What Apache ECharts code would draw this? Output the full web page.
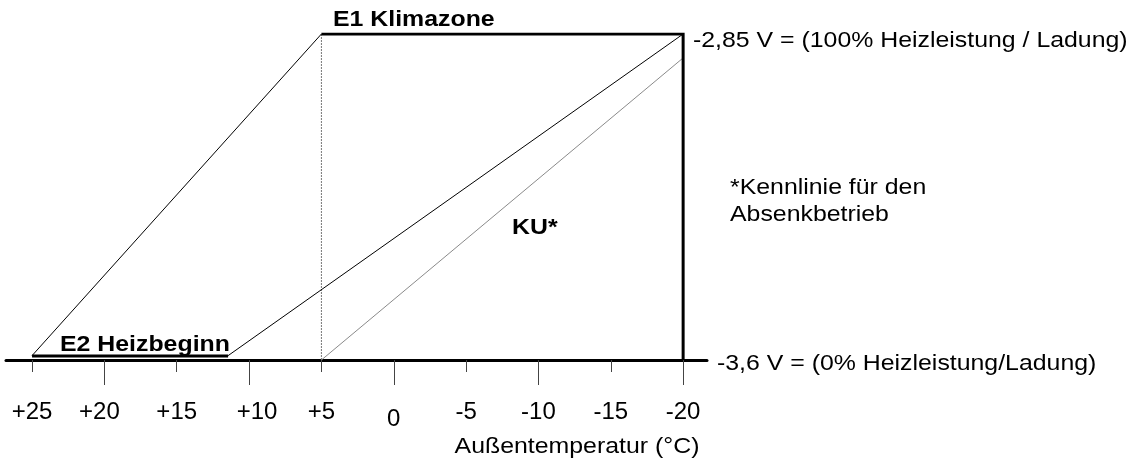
<!DOCTYPE html>
<html>
<head>
<meta charset="utf-8">
<style>
  html, body { margin: 0; padding: 0; background: #fff; }
  #chart { width: 1139px; height: 464px; }
</style>
<script src="https://cdn.jsdelivr.net/npm/echarts@6/dist/echarts.min.js"></script>
</head>
<body>
<div id="chart"></div>
<script>
  // Achsen: Außentemperatur (°C), Spannung (V)
  const tempMin = -21.65
  const tempMax = 26.8
  const voltMin = -3.6
  const voltMax = -2.85
  const longTicks = [20, 10, 0, -10, -20]
  const shortTicks = [25, 15, 5, -5, -15]
  const tickLabels = [25, 20, 15, 10, 5, 0, -5, -10, -15, -20]

  // Kennlinien [temp, volt]
  const klimazone = [[5, -2.85], [-20, -2.85], [-20, -3.6]]
  const klimaGrenze = [[5, -3.6], [5, -2.85]]
  const heizbeginn = [[25, -3.591], [11.45, -3.591]]
  const kennlinieSteil = [[25, -3.59], [5, -2.85]]
  const kennlinieFlach = [[11.45, -3.59], [-20, -2.85]]
  const kennlinieKU = [[5, -3.6], [-20, -2.905]]

  const font = "'Liberation Sans', Arial, sans-serif"
  const sx = 1.13

  const chart = echarts.init(document.getElementById('chart'))

  const line = (data, width, color, type) => ({
    type: 'line',
    data,
    symbol: 'none',
    silent: true,
    animation: false,
    lineStyle: { width, color, type: type || 'solid', join: 'miter', cap: 'butt' }
  })

  const txt = (text, x, y, opts = {}) => ({
    type: 'text',
    x,
    y,
    scaleX: sx,
    silent: true,
    style: {
      text,
      fontSize: 22,
      fontFamily: font,
      fontWeight: opts.bold ? 'bold' : 'normal',
      fill: '#000',
      align: opts.align || 'left',
      verticalAlign: 'middle'
    }
  })

  // einzelne Beschriftungen sitzen im Original leicht versetzt
  const labelKey = (v) => {
    if (v === 0) return 'z'
    if (v === 20) return 'l'
    if (v === 10) return 'r'
    return 'n'
  }

  const xBase = {
    type: 'value',
    min: tempMin,
    max: tempMax,
    inverse: true,
    position: 'bottom',
    splitLine: { show: false }
  }

  const lbl = { fontSize: 24, fontFamily: font, color: '#000' }

  chart.setOption({
    animation: false,
    grid: { left: 6, right: 432, top: 34, bottom: 104 },
    xAxis: [
      Object.assign({}, xBase, {
        axisLine: { show: true, lineStyle: { color: '#000', width: 3 } },
        axisTick: {
          show: true,
          customValues: longTicks,
          length: 25,
          lineStyle: { color: '#444', width: 1 }
        },
        axisLabel: {
          show: true,
          customValues: tickLabels,
          margin: 40,
          color: '#000',
          fontSize: 24,
          fontFamily: font,
          formatter: (v) => {
            const s = v > 0 ? '+' + v : String(v)
            return '{' + labelKey(v) + '|' + s + '}'
          },
          rich: {
            n: lbl,
            z: Object.assign({}, lbl, { padding: [7, 0, 0, 0] }),
            l: Object.assign({}, lbl, { padding: [0, 10, 0, 0] }),
            r: Object.assign({}, lbl, { padding: [0, 0, 0, 16] })
          }
        }
      }),
      Object.assign({}, xBase, {
        axisLine: { show: false },
        axisTick: {
          show: true,
          customValues: shortTicks,
          length: 12,
          lineStyle: { color: '#444', width: 1 }
        },
        axisLabel: { show: false }
      })
    ],
    yAxis: {
      type: 'value',
      min: voltMin,
      max: voltMax,
      show: false,
      splitLine: { show: false }
    },
    series: [
      line(klimaGrenze, 1, '#777', [2, 1]),
      line(kennlinieKU, 1, '#8a8a8a'),
      line(kennlinieSteil, 1, '#000'),
      line(kennlinieFlach, 1, '#000'),
      line(heizbeginn, 3, '#000'),
      line(klimazone, 3, '#000')
    ],
    graphic: [
      txt('E1 Klimazone', 333, 20, { bold: true }),
      txt('E2 Heizbeginn', 60, 345, { bold: true }),
      txt('KU*', 512, 228, { bold: true }),
      txt('-2,85 V = (100% Heizleistung / Ladung)', 693, 41),
      txt('-3,6 V = (0% Heizleistung/Ladung)', 717, 364),
      txt('*Kennlinie für den', 730, 188),
      txt('Absenkbetrieb', 730, 215),
      txt('Außentemperatur (°C)', 577, 447, { align: 'center' })
    ]
  })
</script>
</body>
</html>
